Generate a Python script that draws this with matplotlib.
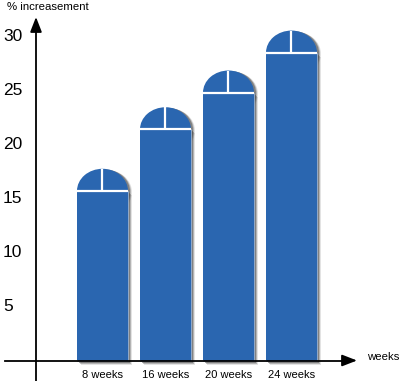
import matplotlib
matplotlib.use("Agg")
import matplotlib.pyplot as plt
from matplotlib.patches import Rectangle, Ellipse

categories = ["8 weeks", "16 weeks", "20 weeks", "24 weeks"]
values = [15.7, 21.4, 24.8, 28.5]
yticks = [5, 10, 15, 20, 25, 30]
ylabel = "% increasement"
xlabel = "weeks"

plt.rcParams['font.family'] = ['Liberation Sans', 'DejaVu Sans']

W, H = 400, 381
fig = plt.figure(figsize=(W / 100, H / 100), dpi=100)
ax = fig.add_axes([0, 0, 1, 1])
ax.set_axis_off()

# scale: 63 px per category, 10.8 px per unit; zero at pixel row 360.5
px_x = 63.0
px_y = 10.8
x0 = 102.5
y0 = 360.5
ax.set_xlim(-x0 / px_x, (W - x0) / px_x)
ax.set_ylim(-(H - y0) / px_y, y0 / px_y)

def dx(p):
    return p / px_x

def dy(p):
    return p / px_y

bar_w = 0.81
dome_h = 2.05
color = "#2A66B0"

for i, v in enumerate(values):
    left = i - bar_w / 2
    # shadow
    for k, a in [(4, 0.15), (3, 0.3), (2, 0.45)]:
        ax.add_patch(Rectangle((left + dx(k), -dy(k)), bar_w, v, color="#444444",
                               alpha=a, lw=0, zorder=1))
        ax.add_patch(Ellipse((i + dx(k), v - dy(k) * 0.3), bar_w, 2 * dome_h,
                             color="#444444", alpha=a, lw=0, zorder=1))
    ax.add_patch(Rectangle((left, 0), bar_w, v, facecolor=color,
                           edgecolor="#9DB3CF", lw=0.6, zorder=2))
    ax.add_patch(Ellipse((i, v), bar_w, 2 * dome_h, facecolor=color,
                         edgecolor="none", lw=0, zorder=2))
    ax.add_patch(Rectangle((left, 0.05), bar_w, v - 0.1, facecolor=color,
                           edgecolor="none", lw=0, zorder=2.5))
    ax.plot([left, left + bar_w], [v, v], color="white", lw=1.6, zorder=3,
            solid_capstyle="butt")
    ax.plot([i, i], [v, v + dome_h], color="white", lw=1.6, zorder=3,
            solid_capstyle="butt")
    ax.text(i, -dy(14), categories[i], ha="center", va="center", fontsize=8)

# axes with arrows
yax_x = dx(36 - x0)
ax.plot([yax_x, yax_x], [-(H - y0) / px_y, dy(y0 - 30)], color="black", lw=1.3,
        zorder=4)
ax.annotate("", xy=(yax_x, dy(y0 - 17)), xytext=(yax_x, dy(y0 - 32)),
            arrowprops=dict(arrowstyle="-|>,head_width=0.35,head_length=0.9",
                            color="black", lw=1.3, shrinkA=0, shrinkB=0), zorder=5)
ax.plot([dx(5 - x0), dx(346 - x0)], [0, 0], color="black", lw=1.3, zorder=4)
ax.annotate("", xy=(dx(357 - x0), 0), xytext=(dx(344 - x0), 0),
            arrowprops=dict(arrowstyle="-|>,head_width=0.35,head_length=0.9",
                            color="black", lw=1.3, shrinkA=0, shrinkB=0), zorder=5)

for t in yticks:
    ax.text(dx(3 - x0), t, str(t), ha="left", va="center", fontsize=12.5)

ax.text(dx(7 - x0), dy(y0 - 7), ylabel, ha="left", va="center", fontsize=8.2)
ax.text(dx(367 - x0), dy(y0 - 357), xlabel, ha="left", va="center", fontsize=8.2)

fig.savefig("out.png", dpi=100)
